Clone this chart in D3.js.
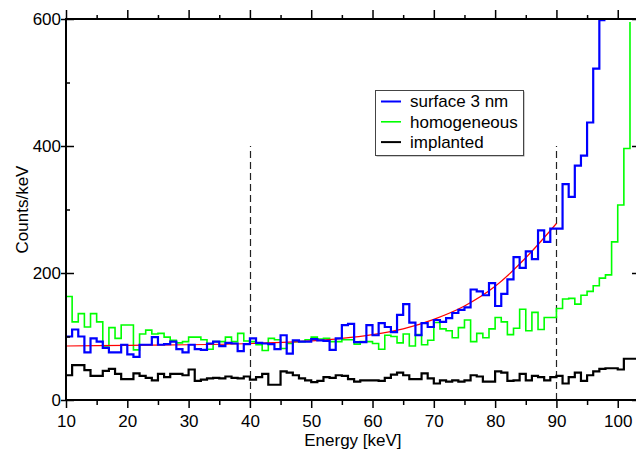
<!DOCTYPE html>
<html>
<head>
<meta charset="utf-8">
<script src="https://cdn.jsdelivr.net/npm/d3@7"></script>
<style>
  html, body { margin: 0; padding: 0; background: #fff; }
  svg { display: block; }
  text { font-family: "Liberation Sans", Arial, Helvetica, sans-serif; fill: #000; }
</style>
</head>
<body>
<svg id="chart" width="636" height="450"></svg>
<script>
// ---- data (1 keV bins, first bin starts at 10 keV) ----
const binStart = 10;
const surface3nm = [100,111,100,75,97,92,82,75,75,87,72,68,87,87,99,87,88,92,80,75,
  87,80,79,89,92,85,90,89,77,88,97,90,89,88,80,102,73,94,92,92,
  96,94,93,79,97,118,120,91,91,118,102,121,115,107,134,151,122,102,121,115,
  126,123,129,137,142,146,174,171,165,184,148,167,190,225,208,234,222,267,249,270,
  270,340,320,369,385,437,522,598];
const homogeneous = [163,123,136,115,136,123,85,114,97,118,118,79,104,110,104,105,99,94,90,92,
  99,99,95,80,92,92,99,92,105,93,92,87,78,97,95,81,89,92,92,95,
  99,96,97,92,92,95,95,88,92,92,89,80,102,100,90,104,85,103,87,94,
  122,112,109,98,114,126,92,105,98,112,130,123,103,113,143,109,138,111,130,130,
  144,159,160,151,165,171,180,192,197,249,307,396,640];
const implanted = [39,55,55,47,38,38,46,49,41,33,33,42,38,35,31,41,36,41,41,39,
  48,30,32,34,35,34,37,35,34,37,32,36,41,24,24,45,43,39,34,31,
  28,30,36,35,39,38,33,29,31,31,31,30,35,40,43,39,33,33,42,34,
  26,31,29,31,29,31,39,37,29,29,45,43,30,31,41,31,38,36,31,36,
  38,26,36,43,30,39,45,49,50,50,48,65,65];
// fit curve, points (keV, counts/keV)
const fitE = [10,20,30,40,50,55,60,65,70,75,80,85,90];
const fitC = [85,86,87,89,93,97,103,112,127,148,179,224,278];
const markers = [40, 90];
const xMajor = [10,20,30,40,50,60,70,80,90,100];
const xMinor = [15,25,35,45,55,65,75,85,95];
const yMajor = [0,200,400,600];
const yMinor = [100,300,500];
const seriesNames = ["surface 3 nm","homogeneous","implanted"];
const seriesColors = ["#0000ff","#00ff00","#000000"];

// ---- layout ----
const svg = d3.select("#chart");
const x = d3.scaleLinear().domain([10, 103.6]).range([66, 639.8]);
const y = d3.scaleLinear().domain([0, 600]).range([400, 19]);

svg.append("defs").append("clipPath").attr("id","plotclip")
  .append("rect").attr("x", 66).attr("y", 22).attr("width", 574).attr("height", 378);

const plot = svg.append("g").attr("clip-path","url(#plotclip)");

function stepPts(vals) {
  const pts = vals.map((v,i) => [binStart + i, v]);
  pts.push([binStart + vals.length, vals[vals.length-1]]);
  return pts;
}
const stepLine = d3.line().x(d => x(d[0])).y(d => y(d[1])).curve(d3.curveStepAfter);

// dashed markers
plot.selectAll("line.marker").data(markers).enter().append("line")
  .attr("x1", d => Math.round(x(d)) + 0.5).attr("x2", d => Math.round(x(d)) + 0.5)
  .attr("y1", y(0)).attr("y2", y(400))
  .attr("stroke","#222").attr("stroke-width",1.2).attr("stroke-dasharray","7,4");

// series
const seriesData = [surface3nm, homogeneous, implanted];
const widths = [2.2, 1.6, 2.2];
[2,1,0].forEach(i => {
  const g = i === 0 ? svg : plot;
  g.append("path").datum(stepPts(seriesData[i]))
    .attr("d", stepLine).attr("fill","none")
    .attr("stroke", seriesColors[i]).attr("stroke-width", widths[i])
    .attr("stroke-linejoin","miter");
});

// fit curve
const fitLine = d3.line().x(d => x(d[0])).y(d => y(d[1])).curve(d3.curveMonotoneX);
plot.append("path").datum(fitE.map((e,i) => [e, fitC[i]]))
  .attr("d", fitLine).attr("fill","none").attr("stroke","#ff0000").attr("stroke-width",1.2);

// ---- axes ----
const axisG = svg.append("g");
function styleAxis(g) {
  g.select(".domain").remove();
  g.selectAll("line").attr("stroke","#000").attr("stroke-width",1.5);
  g.selectAll("text").attr("font-size","17px").attr("font-family","Liberation Sans, Arial, sans-serif");
}
// bottom
axisG.append("g").attr("transform","translate(0,400)")
  .call(d3.axisBottom(x).tickValues(xMajor).tickSize(8).tickPadding(7).tickFormat(d3.format("d")))
  .call(styleAxis);
axisG.append("g").attr("transform","translate(0,400)")
  .call(d3.axisBottom(x).tickValues(xMinor).tickSize(5).tickFormat(""))
  .call(styleAxis);
// top
axisG.append("g").attr("transform","translate(0,19)")
  .call(d3.axisTop(x).tickValues(xMajor).tickSize(9).tickFormat(""))
  .call(styleAxis);
axisG.append("g").attr("transform","translate(0,19)")
  .call(d3.axisTop(x).tickValues(xMinor).tickSize(4).tickFormat(""))
  .call(styleAxis);
// left
axisG.append("g").attr("transform","translate(66,0)")
  .call(d3.axisLeft(y).tickValues(yMajor).tickSize(5).tickPadding(0).tickFormat(d3.format("d")))
  .call(styleAxis);
axisG.append("g").attr("transform","translate(66,0)")
  .call(d3.axisRight(y).tickValues(yMinor).tickSize(4).tickFormat(""))
  .call(styleAxis);
axisG.append("g").attr("transform","translate(66,0)")
  .call(d3.axisRight(y).tickValues(yMajor).tickSize(8).tickFormat(""))
  .call(styleAxis);
// right
axisG.append("g").attr("transform","translate(640,0)")
  .call(d3.axisLeft(y).tickValues(yMinor).tickSize(4).tickFormat(""))
  .call(styleAxis);
axisG.append("g").attr("transform","translate(640,0)")
  .call(d3.axisLeft(y).tickValues(yMajor).tickSize(8).tickFormat(""))
  .call(styleAxis);

// frame lines
svg.append("line").attr("x1",65).attr("x2",640).attr("y1",19).attr("y2",19).attr("stroke","#000").attr("stroke-width",2);
svg.append("line").attr("x1",65).attr("x2",640).attr("y1",400).attr("y2",400).attr("stroke","#000").attr("stroke-width",2);
svg.append("line").attr("x1",66).attr("x2",66).attr("y1",18).attr("y2",401).attr("stroke","#000").attr("stroke-width",2);

// axis titles
svg.append("text").attr("x", (x.range()[0]+x.range()[1])/2).attr("y", 446)
  .attr("text-anchor","middle").attr("font-size","17px").text("Energy [keV]");
svg.append("text").attr("transform","translate(27.5,209.5) rotate(-90)")
  .attr("text-anchor","middle").attr("font-size","17px").text("Counts/keV");

// ---- legend ----
const lg = svg.append("g");
lg.append("rect").attr("x",376.5).attr("y",91.5).attr("width",148).attr("height",65).attr("fill","#999");
lg.append("rect").attr("x",375.5).attr("y",90.5).attr("width",148).attr("height",65)
  .attr("fill","#fff").attr("stroke","#444").attr("stroke-width",1);
seriesNames.forEach((name,i) => {
  const ly = 101.5 + i*20.3;
  lg.append("line").attr("x1",381).attr("x2",401).attr("y1",ly).attr("y2",ly)
    .attr("stroke", seriesColors[i]).attr("stroke-width", i===1 ? 1.6 : 2);
  lg.append("text").attr("x",410).attr("y", ly + 5.8).attr("font-size","17px").text(name);
});
</script>
</body>
</html>
